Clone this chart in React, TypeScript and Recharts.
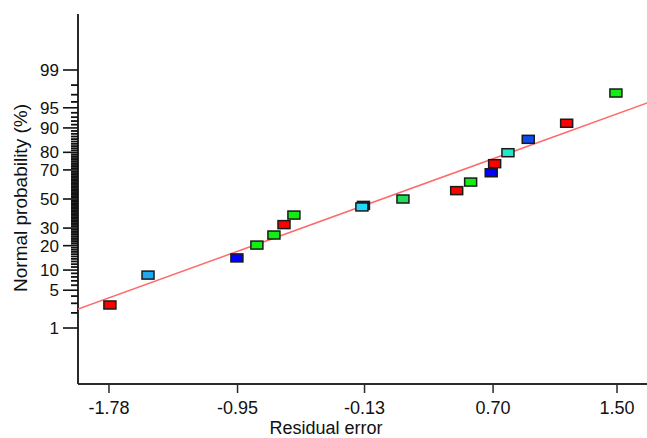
import React from 'react'
import { ScatterChart, Scatter, XAxis, YAxis, Cell } from 'recharts'

// residual error vs normal probability (%)
const residuals = [
  -1.774, -1.528, -0.954, -0.825, -0.715, -0.65, -0.586, -0.137, -0.147, 0.118, 0.465, 0.555, 0.688,
  0.71, 0.796, 0.927, 1.175, 1.493,
]
const probabilities = [
  2.8, 8.5, 14.4, 20.3, 25.8, 32.2, 38.6, 45.4, 44.3, 50.0, 56.0, 62.0, 68.2, 73.8, 79.8, 85.9, 91.4,
  97.2,
]
const pointColors = [
  '#ff0000', '#20a8f0', '#0000ff', '#11ee11', '#11ee11', '#ff0000', '#11ee11', '#102050', '#20d8f8',
  '#22dd55', '#ff0000', '#11ee11', '#0000ff', '#ff0000', '#20e8c8', '#0a4af0', '#ff0000', '#11ee11',
]

// fitted reference line, end points
const fitResiduals = [-1.98, 1.726]
const fitProbabilities = [2.36, 96.1]

const xTicks = [-1.78, -0.95, -0.13, 0.7, 1.5]
const majorPercents = [1, 5, 10, 20, 30, 50, 70, 80, 90, 95, 99]
const minorPercents = Array.from({ length: 99 }, (_, i) => i + 1)

const FONT = '"Liberation Sans", Arial, Helvetica, sans-serif'
const INK = '#111'
const AXIS = '#2a2a2a'

// inverse normal CDF (Acklam)
function probit(pct: number) {
  const p = pct / 100
  const a = [-39.69683028665376, 220.9460984245205, -275.9285104469687, 138.357751867269, -30.66479806614716, 2.506628277459239]
  const b = [-54.47609879822406, 161.5858368580409, -155.6989798598866, 66.80131188771972, -13.28068155288572]
  const c = [-0.007784894002430293, -0.3223964580411365, -2.400758277161838, -2.549732539343734, 4.374664141464968, 2.938163982698783]
  const d = [0.007784695709041462, 0.3224671290700398, 2.445134137142996, 3.754408661907416]
  const pl = 0.02425
  if (p < pl) {
    const q = Math.sqrt(-2 * Math.log(p))
    return (((((c[0] * q + c[1]) * q + c[2]) * q + c[3]) * q + c[4]) * q + c[5]) / ((((d[0] * q + d[1]) * q + d[2]) * q + d[3]) * q + 1)
  }
  if (p > 1 - pl) {
    const q = Math.sqrt(-2 * Math.log(1 - p))
    return -(((((c[0] * q + c[1]) * q + c[2]) * q + c[3]) * q + c[4]) * q + c[5]) / ((((d[0] * q + d[1]) * q + d[2]) * q + d[3]) * q + 1)
  }
  const q = p - 0.5
  const r = q * q
  return ((((((a[0] * r + a[1]) * r + a[2]) * r + a[3]) * r + a[4]) * r + a[5]) * q) / (((((b[0] * r + b[1]) * r + b[2]) * r + b[3]) * r + b[4]) * r + 1)
}

const points = residuals.map((x, i) => ({ x, z: probit(probabilities[i]) }))
const fitLine = fitResiduals.map((x, i) => ({ x, z: probit(fitProbabilities[i]) }))
const yTicks = minorPercents.map(probit)

const YTick = (props: any) => {
  const { x, y, payload } = props
  const pct = minorPercents.find((p) => Math.abs(probit(p) - payload.value) < 1e-9)
  const major = pct !== undefined && majorPercents.includes(pct)
  return (
    <g>
      <line x1={x - (major ? 15 : 7)} x2={x} y1={y} y2={y} stroke="#111" strokeWidth={major ? 1.6 : 1.8} />
      {major && (
        <text x={x - 19} y={y} dy="0.36em" textAnchor="end" fontSize={17} fontFamily={FONT} fill={INK}>
          {pct}
        </text>
      )}
    </g>
  )
}

const Marker = (props: any) => {
  const { cx, cy, fill } = props
  return <rect x={cx - 6} y={cy - 4} width={12} height={8} fill={fill} stroke="#1a1a1a" strokeWidth={1.5} />
}

export default function App() {
  return (
    <div style={{ width: 647, height: 438, overflow: 'hidden', background: '#fff' }}>
      <style>{'body{margin:0;overflow:hidden}'}</style>
      <ScatterChart width={660} height={438} margin={{ top: 14, right: 8, bottom: 0, left: 0 }}>
        <XAxis
          xAxisId="top"
          orientation="top"
          type="number"
          domain={[-1.98, 1.726]}
          height={0}
          tick={false}
          tickLine={false}
          axisLine={{ stroke: AXIS, strokeWidth: 2 }}
        />
        <XAxis
          type="number"
          dataKey="x"
          domain={[-1.98, 1.726]}
          allowDataOverflow
          ticks={xTicks}
          interval={0}
          height={54}
          tickSize={9}
          tickMargin={8}
          tickFormatter={(v: number) => v.toFixed(2)}
          tick={{ fill: INK, fontSize: 18, fontFamily: FONT }}
          tickLine={{ stroke: AXIS, strokeWidth: 1.5 }}
          axisLine={{ stroke: AXIS, strokeWidth: 2 }}
          label={{
            content: () => (
              <text x={326} y={434} textAnchor="middle" fontSize={18} fontFamily={FONT} fill={INK}>
                Residual error
              </text>
            ),
          }}
        />
        <YAxis
          type="number"
          dataKey="z"
          domain={[-3.336, 3.336]}
          allowDataOverflow
          ticks={yTicks}
          interval={0}
          width={78}
          tickSize={0}
          tickMargin={0}
          tick={<YTick />}
          tickLine={false}
          axisLine={{ stroke: AXIS, strokeWidth: 2 }}
          label={{
            content: () => (
              <text
                transform="translate(20,198) rotate(-90)"
                textAnchor="middle"
                dy="0.36em"
                fontSize={19}
                fontFamily={FONT}
                fill={INK}
              >
                Normal probability (%)
              </text>
            ),
          }}
        />
        <Scatter
          data={fitLine}
          line={{ stroke: '#ff6b6b', strokeWidth: 1.5 }}
          shape={() => <g />}
          isAnimationActive={false}
        />
        <Scatter data={points} shape={<Marker />} isAnimationActive={false}>
          {points.map((_, i) => (
            <Cell key={i} fill={pointColors[i]} />
          ))}
        </Scatter>
      </ScatterChart>
    </div>
  )
}
